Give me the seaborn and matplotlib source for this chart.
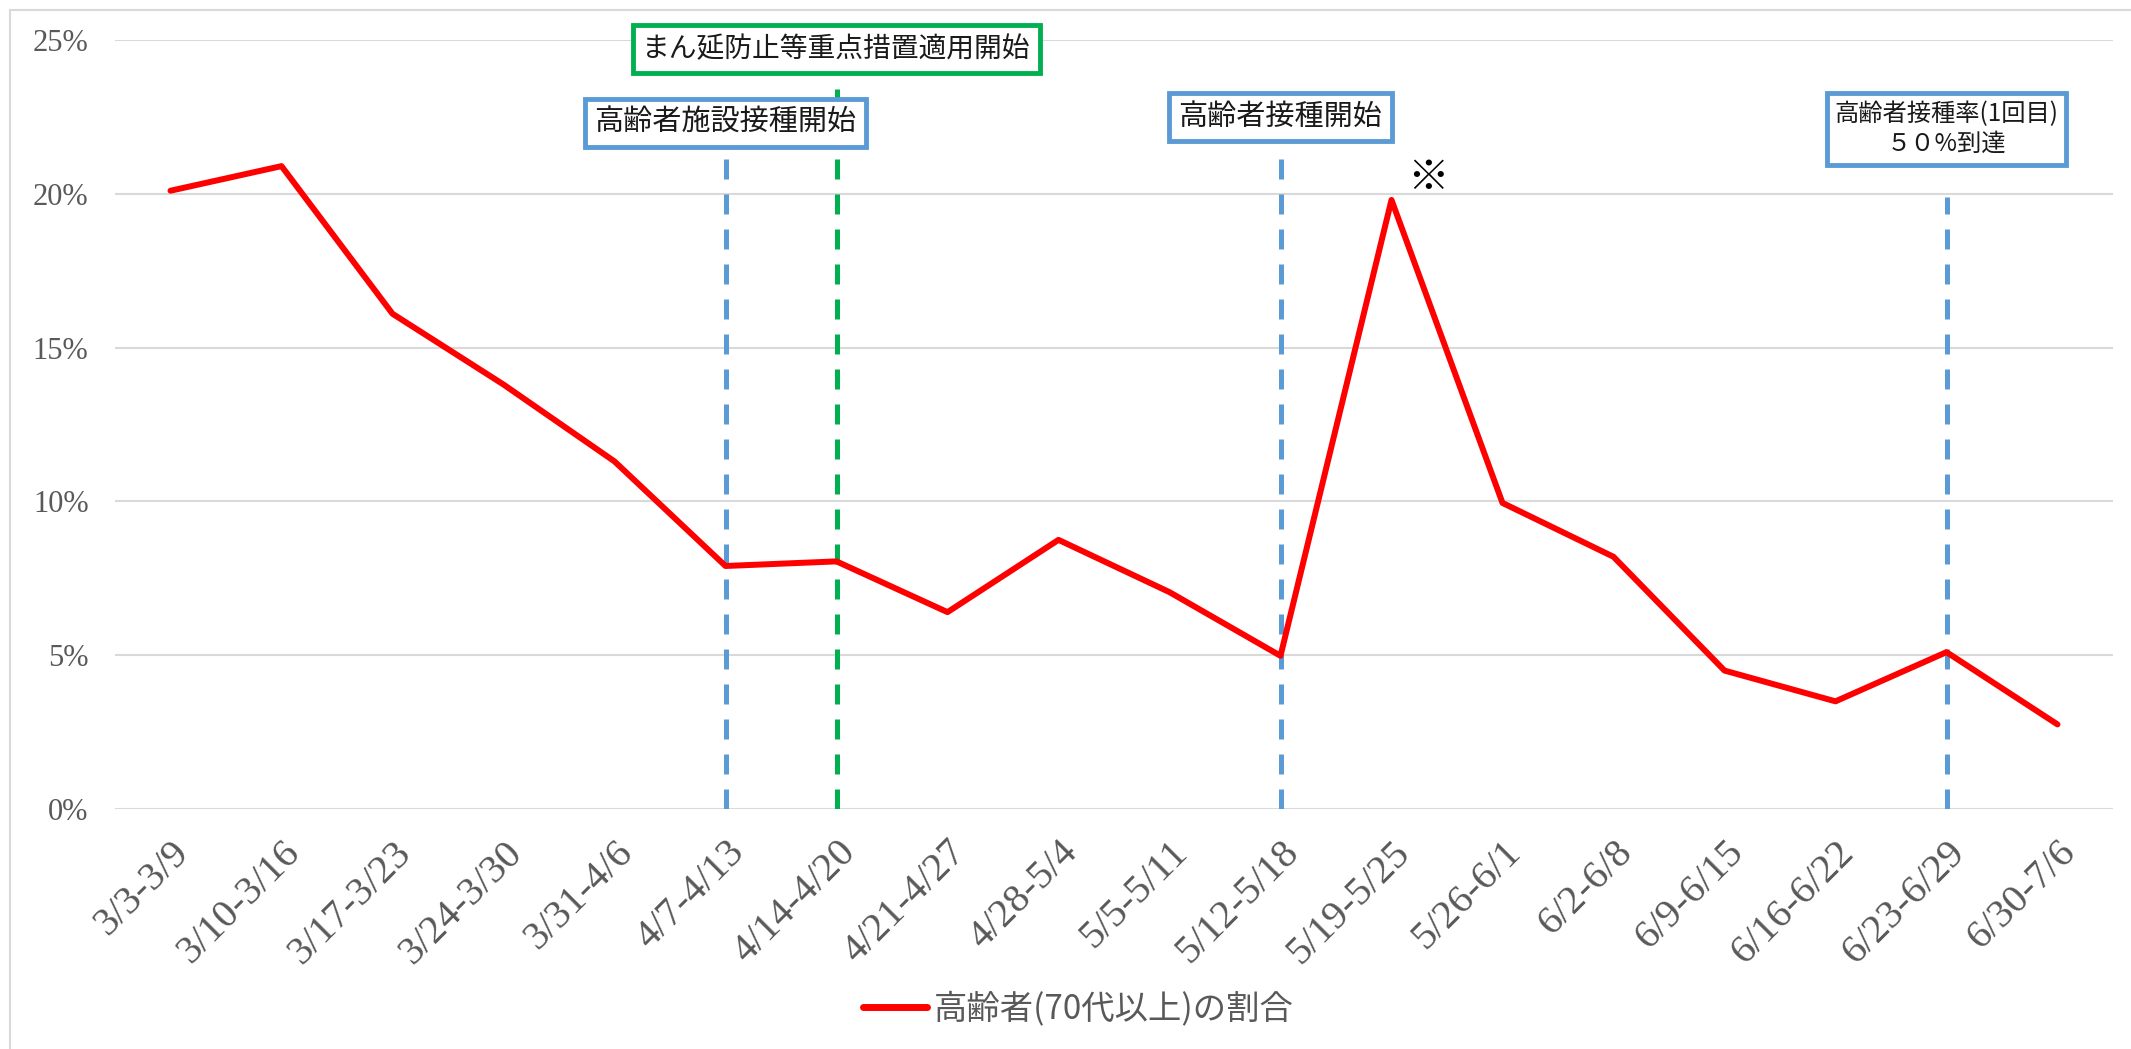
import matplotlib.pyplot as plt
import pandas as pd
import seaborn as sns
from matplotlib.lines import Line2D
from matplotlib.ticker import MultipleLocator, PercentFormatter

weeks = ["3/3-3/9", "3/10-3/16", "3/17-3/23", "3/24-3/30", "3/31-4/6",
         "4/7-4/13", "4/14-4/20", "4/21-4/27", "4/28-5/4", "5/5-5/11",
         "5/12-5/18", "5/19-5/25", "5/26-6/1", "6/2-6/8", "6/9-6/15",
         "6/16-6/22", "6/23-6/29", "6/30-7/6"]
share_70plus = [20.1, 20.9, 16.1, 13.8, 11.3, 7.9, 8.05, 6.4, 8.75, 7.05,
                4.98, 19.8, 9.95, 8.2, 4.5, 3.5, 5.1, 2.75]
series_name = "高齢者(70代以上)の割合"

# events: week, label, colour, top of dashed line (%), label centre (%)
event_weeks = ["4/7-4/13", "4/14-4/20", "5/12-5/18", "6/23-6/29"]
event_labels = ["高齢者施設接種開始", "まん延防止等重点措置適用開始",
                "高齢者接種開始", "高齢者接種率(1回目)\n５０%到達"]
event_colors = ["#5B9BD5", "#00B050", "#5B9BD5", "#5B9BD5"]
event_line_top = [21.5, 23.8, 21.3, 19.9]
event_label_y = [22.3, 24.7, 22.5, 22.1]
event_fontsize = [21, 20, 21, 17.5]

GRAY = "#595959"

sns.set_style("white")
plt.rcParams["font.family"] = ["Noto Sans CJK JP", "DejaVu Sans"]

df = pd.DataFrame({"week": weeks, "pct": share_70plus})

fig = plt.figure(figsize=(21.31, 10.49), dpi=100)
ax = fig.add_axes([115 / 2131, 1 - 809 / 1049, (2113 - 115) / 2131, (809 - 40) / 1049])

for i, wk in enumerate(event_weeks):
    xpos = weeks.index(wk)
    ax.plot([xpos, xpos], [0, event_line_top[i]], color=event_colors[i],
            lw=3.6, linestyle=(0, (4, 3)), zorder=2)
    ax.text(xpos, event_label_y[i], event_labels[i], ha="center", va="center",
            fontsize=event_fontsize[i], color="#1a1a1a", linespacing=1.2,
            clip_on=False, zorder=5,
            bbox=dict(boxstyle="square,pad=0.32", fc="white",
                      ec=event_colors[i], lw=3.5))

sns.lineplot(data=df, x="week", y="pct", sort=False, color="#FF0000",
             lw=4.3, ax=ax, zorder=3, legend=False)

peak = weeks.index("5/19-5/25")
ax.text(peak + 0.33, share_70plus[peak] + 0.7, "※", ha="center", va="center",
        fontsize=30, color="black", clip_on=False)

ax.set_xlim(-0.5, len(weeks) - 0.5)
ax.set_ylim(0, 25)
ax.yaxis.set_major_locator(MultipleLocator(5))
ax.yaxis.set_major_formatter(PercentFormatter(decimals=0))
ax.grid(axis="y", color="#D9D9D9", lw=1.5)
ax.set_axisbelow(True)
for s in ax.spines.values():
    s.set_visible(False)
ax.set_xlabel("")
ax.set_ylabel("")
ax.tick_params(axis="both", length=0)
ax.tick_params(axis="y", pad=19)
ax.tick_params(axis="x", pad=18)

ax.set_xticks(range(len(weeks)))
ax.set_xticklabels(weeks, rotation=45, ha="right", rotation_mode="anchor",
                   fontsize=29, color=GRAY, family="Liberation Serif")
for lbl in ax.get_yticklabels():
    lbl.set_fontsize(22)
    lbl.set_color(GRAY)
    lbl.set_family("Liberation Serif")

handle = Line2D([], [], color="#FF0000", lw=5)
fig.legend([handle], [series_name], loc="center", bbox_to_anchor=(0.506, 1 - 1009 / 1049),
           frameon=False, fontsize=24, labelcolor=GRAY, handlelength=1.9,
           handletextpad=0.2)

# chart area border (left and top edges visible)
fig.add_artist(Line2D([10 / 2131, 10 / 2131], [0, 1 - 10 / 1049],
                      transform=fig.transFigure, color="#D9D9D9", lw=1.5))
fig.add_artist(Line2D([10 / 2131, 1], [1 - 10 / 1049, 1 - 10 / 1049],
                      transform=fig.transFigure, color="#D9D9D9", lw=1.5))

fig.savefig("out.png", dpi=100)
